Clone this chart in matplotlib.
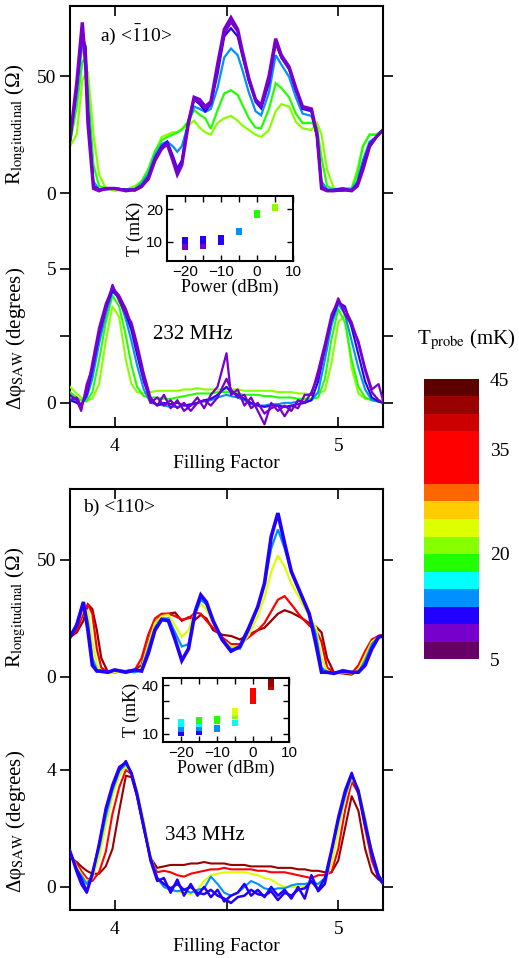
import matplotlib
matplotlib.use("Agg")
import matplotlib.pyplot as plt
import matplotlib.colors as mcolors
import matplotlib.cm as mcm

plt.rcParams.update({
    "font.family": "serif",
    "font.serif": ["Liberation Serif", "DejaVu Serif"],
    "mathtext.fontset": "stix",
    "font.size": 14,
})

# ---- temperature scale (colour bar) ----
T_BOUNDS = [5, 7.5, 10, 12.5, 15, 17.5, 20, 22.5, 25, 27.5, 30, 37.5, 40, 42.5, 45]
T_COLORS = ["#660066", "#7700cc", "#2200ff", "#0090ff", "#00ffff", "#22ff00",
            "#88ff00", "#ddff00", "#ffcc00", "#ff6600", "#ff0000", "#cc0000",
            "#990000", "#5c0000"]
T_TICKS = [5, 20, 35, 45]

# ---- panel a: R_xx vs filling factor ----
FF_RA = [3.80, 3.83, 3.855, 3.87, 3.88, 3.905, 3.93, 3.96, 4.00, 4.05, 4.09, 4.12,
         4.15, 4.18, 4.21, 4.235, 4.26, 4.28, 4.30, 4.33, 4.355, 4.38, 4.405, 4.43,
         4.46, 4.49, 4.52, 4.55, 4.57, 4.60, 4.63, 4.655, 4.69, 4.72, 4.745, 4.78,
         4.81, 4.84, 4.88, 4.905, 4.925, 4.95, 4.98, 5.02, 5.06, 5.085, 5.11, 5.14,
         5.17, 5.20]
RA_YG = [20, 25, 48, 51, 52, 25, 8, 2, 1, 1.5, 3, 5, 10, 17, 24, 25, 26, 26, 27.5, 29,
         31, 28, 26, 25, 30, 32, 33, 31, 29, 27, 25, 24, 27, 35, 38, 37, 30.5, 27.7, 27,
         30, 25, 10, 2, 1.5, 2, 10, 20, 25, 25, 27]
RA_GREEN = [21, 37, 56, 58, 45, 12, 3, 2, 2, 1.5, 2, 5, 10, 18, 22.6, 24, 25, 26, 27,
            31, 35.5, 33.5, 32, 27.5, 35.5, 42.6, 44, 42, 38, 32, 28, 27.7, 36, 47, 45,
            41, 34, 30, 30, 28, 15, 3, 1.5, 2, 2, 8, 20, 25, 25, 27]
RA_LBLUE = [22, 42, 64, 63, 40, 5, 1.5, 2, 2, 1.5, 1.5, 4, 8, 16, 21, 22, 20, 17.7, 20,
            30, 37, 36, 34.7, 36, 45, 58, 61.8, 59, 53, 43, 35, 33.3, 43, 59, 55, 49.7,
            41, 34, 33, 25, 5, 1.5, 1.5, 2, 1.5, 5, 14, 22, 24, 27]
RA_BLUE = [23, 45, 68, 62, 35, 3, 1.5, 2, 2, 1.5, 1.5, 3, 7, 15, 20, 22, 16, 10.5, 14,
           31, 40, 38, 35, 38, 51, 67, 70.5, 67, 59, 48, 39, 36.2, 47, 64.5, 58, 53, 44,
           36, 35, 24, 3, 1, 1.5, 2, 1, 4, 12, 21, 24, 27]
RA_PURPLE2 = [23, 45, 71, 56, 33, 3, 1.5, 1.5, 2, 1.5, 1, 2.5, 6, 14, 19.5, 21, 15, 9,
              13, 31, 40, 39, 36, 38, 53, 68, 73, 69, 60, 48, 40, 37, 48, 64, 58, 53,
              44, 36.5, 35.5, 24, 2.5, 1.5, 1, 1, 1.5, 3.5, 11, 20, 24, 27]
RA_PURPLE1 = [23, 47, 73, 54, 30, 2, 1, 2, 2, 1, 1.5, 3, 6, 14, 19, 21, 14, 8, 12, 30,
              41, 40, 37, 39, 55, 70, 75, 70, 61, 49, 40, 37.5, 50, 66, 59, 54, 45, 37,
              36, 25, 2, 1, 1, 1.5, 1, 3, 10, 20, 24, 27]
RA_TEMPS = [21, 18.5, 13.5, 11, 9.2, 8.5]

# ---- panel a: SAW phase shift ----
FF_PA = [3.80, 3.83, 3.85, 3.875, 3.90, 3.93, 3.96, 3.99, 4.02, 4.05, 4.075, 4.10,
         4.13, 4.16, 4.19, 4.22, 4.25, 4.28, 4.31, 4.34, 4.37, 4.40, 4.43, 4.46, 4.50,
         4.52, 4.55, 4.58, 4.61, 4.64, 4.67, 4.70, 4.73, 4.76, 4.79, 4.82, 4.85, 4.88,
         4.91, 4.94, 4.97, 5.00, 5.03, 5.06, 5.09, 5.12, 5.15, 5.18, 5.20]
PA_YG = [0.6, 0.35, 0.2, 0.1, 0.15, 0.7, 2.3, 3.6, 3.2, 1.6, 0.7, 0.4, 0.35, 0.4, 0.45,
         0.45, 0.45, 0.45, 0.5, 0.5, 0.55, 0.5, 0.5, 0.5, 0.5, 0.5, 0.5, 0.45, 0.45, 0.45,
         0.45, 0.45, 0.4, 0.4, 0.4, 0.35, 0.35, 0.3, 0.35, 0.45, 1.5, 3.0, 3.3, 1.3, 0.35,
         0.15, 0.1, 0.1, 0.1]
PA_GREEN = [0.4, 0.2, 0.1, 0.05, 0.4, 1.6, 3.0, 4.0, 3.6, 2.5, 1.4, 0.6, 0.25, 0.2, 0.2,
            0.15, 0.15, 0.2, 0.25, 0.3, 0.35, 0.35, 0.35, 0.4, 0.4, 0.4, 0.35, 0.3, 0.3,
            0.3, 0.25, 0.25, 0.2, 0.2, 0.2, 0.15, 0.15, 0.15, 0.2, 0.9, 2.4, 3.5, 3.0,
            1.6, 0.6, 0.2, 0.1, 0.05, 0.0]
PA_LBLUE = [0.2, 0.0, -0.05, 0.2, 0.9, 2.2, 3.3, 4.15, 3.9, 3.1, 2.3, 1.4, 0.5, 0.0,
            -0.05, -0.1, -0.15, -0.15, -0.1, -0.1, 0.0, 0.05, 0.1, 0.2, 0.3, 0.25, 0.2,
            0.1, -0.05, -0.1, -0.1, -0.05, -0.05, 0.0, 0.0, 0.05, 0.05, 0.1, 0.4, 1.6,
            2.9, 3.7, 3.3, 2.3, 1.3, 0.5, 0.1, 0.05, 0.0]
PA_BLUE = [0.1, 0.0, -0.1, 0.3, 1.2, 2.5, 3.5, 4.2, 3.9, 3.3, 2.7, 1.8, 0.8, 0.1, -0.1,
           0.0, -0.05, 0.0, -0.1, -0.05, 0.0, 0.1, 0.15, 0.3, 0.6, 0.4, 0.3, 0.15, 0.0,
           -0.1, -0.15, -0.1, -0.1, -0.15, -0.1, -0.05, 0.0, 0.1, 0.8, 2.0, 3.1, 3.75,
           3.6, 2.8, 1.8, 0.8, 0.2, 0.05, 0.0]
PA_PURPLE2 = [0.1, 0.2, -0.1, 0.4, 1.5, 2.8, 3.7, 4.3, 4.0, 3.5, 2.9, 2.0, 0.9, 0.0, 0.2,
              -0.1, 0.1, -0.2, 0.0, -0.3, 0.0, 0.1, -0.1, 0.2, 0.9, 0.5, 0.2, 0.3, -0.2,
              0.0, -0.4, -0.2, -0.1, -0.5, -0.1, -0.2, 0.3, 0.3, 1.2, 2.2, 3.3, 3.8, 3.5,
              3.0, 2.2, 1.2, 0.4, 0.1, 0.0]
PA_PURPLE1 = [0.3, 0.1, -0.3, 0.7, 1.3, 2.6, 3.5, 4.4, 3.8, 3.3, 3.0, 2.2, 1.1, 0.2, -0.1,
              0.3, -0.2, 0.1, -0.3, -0.1, 0.2, -0.2, 0.3, 0.6, 1.85, 0.3, 0.5, -0.1, 0.2,
              -0.3, -0.8, 0.0, -0.3, -0.1, -0.3, 0.1, 0.0, 0.4, 1.0, 2.0, 3.2, 3.9, 3.3,
              2.9, 2.3, 1.3, 0.5, 0.7, 0.1]
PA_TEMPS = [21, 18.5, 13.5, 11, 9.2, 8.5]

# ---- panel a inset: electron temperature vs SAW power ----
INSET_A_POWER = [-20, -20, -20, -20, -15, -15, -15, -15, -10, -10, -10, -5, -5, 0, 0, 5, 5]
INSET_A_T = [8.4, 9.3, 10.2, 10.8, 8.6, 9.5, 10.3, 10.9, 10.0, 10.6, 11.2, 13.0, 13.6,
             18.0, 18.8, 20.2, 20.8]

# ---- panel b: R_xx vs filling factor ----
FF_RB = [3.80, 3.83, 3.86, 3.88, 3.90, 3.92, 3.94, 3.97, 4.00, 4.05, 4.09, 4.12, 4.15,
         4.18, 4.21, 4.24, 4.27, 4.30, 4.33, 4.36, 4.385, 4.41, 4.44, 4.48, 4.52, 4.56,
         4.60, 4.64, 4.67, 4.70, 4.73, 4.76, 4.79, 4.83, 4.87, 4.90, 4.925, 4.95, 4.98,
         5.02, 5.06, 5.09, 5.12, 5.15, 5.18, 5.20]
RB_DRED = [17, 19, 24, 31, 29, 20, 8, 2, 2, 2.5, 3, 5, 15, 23, 26.5, 27, 27.5, 24, 25.5,
           24.5, 26.5, 25, 20, 18, 17.5, 16, 18, 20, 21, 24, 27, 28.5, 27.5, 25.5, 23,
           21.5, 19, 8, 2, 1.5, 1, 3, 9, 15, 17.5, 18]
RB_RED = [17, 20, 27, 31, 27, 12, 4, 2, 2, 2.5, 3, 8, 18, 25, 27, 27, 26, 24.5, 25, 27.5,
          27, 24, 21, 17, 14, 14, 17, 20, 23, 28, 33, 34.5, 31, 26, 22, 20, 15, 4, 2, 2,
          1.5, 5, 11, 16, 17.5, 18]
RB_YELLOW = [17, 22, 29, 28, 15, 5, 2, 1.5, 2, 2, 2, 4, 14, 23, 26, 26.5, 22, 17, 20, 28,
             31, 29, 23, 16, 13, 13, 18, 26, 34, 45, 52, 47, 40, 33, 26, 21, 8, 2.5, 1.5,
             2, 1.5, 3, 9, 15, 17, 17.5]
RB_LBLUE = [17, 23, 32, 23, 8, 3, 2, 2, 3, 2.5, 2, 3, 12, 21, 25, 25, 19, 13, 14, 27, 33,
            31, 24, 16, 12, 12, 20, 30, 40, 55, 63, 55, 45, 36, 27, 18, 4, 2, 1.5, 3, 2,
            2, 7, 14, 17, 17.5]
RB_BLUE = [17, 22, 32, 20, 5, 2.5, 2.5, 2, 3, 2, 3, 2.5, 10, 20, 24.5, 24, 16, 7, 12, 28,
           35, 32, 24, 16, 11, 13, 21, 30, 40, 60, 70, 57, 45, 36, 27, 14, 2, 2, 1.5, 2.5,
           2, 2, 5, 12, 17, 17.5]
RB_TEMPS = [41, 33, 23.5, 13.5, 11]

# ---- panel b: SAW phase shift ----
FF_PB = [3.80, 3.83, 3.85, 3.875, 3.90, 3.93, 3.96, 3.99, 4.02, 4.05, 4.075, 4.10,
         4.13, 4.16, 4.19, 4.22, 4.25, 4.28, 4.31, 4.34, 4.37, 4.40, 4.43, 4.46, 4.49,
         4.52, 4.55, 4.58, 4.61, 4.64, 4.67, 4.70, 4.73, 4.76, 4.79, 4.82, 4.85, 4.88,
         4.91, 4.94, 4.97, 5.00, 5.03, 5.06, 5.09, 5.12, 5.15, 5.18, 5.20]
PB_DRED = [1.0, 0.85, 0.7, 0.55, 0.45, 0.45, 0.7, 1.3, 2.6, 3.8, 3.75, 3.1, 2.0, 1.0,
           0.65, 0.7, 0.75, 0.75, 0.75, 0.8, 0.8, 0.85, 0.8, 0.8, 0.8, 0.75, 0.75, 0.75,
           0.7, 0.7, 0.7, 0.7, 0.65, 0.65, 0.65, 0.6, 0.6, 0.55, 0.55, 0.5, 0.5, 0.9,
           2.0, 3.1, 2.6, 1.3, 0.5, 0.25, 0.2]
PB_RED = [1.1, 0.8, 0.55, 0.3, 0.2, 0.5, 1.2, 2.5, 3.4, 4.0, 3.85, 3.1, 2.0, 0.9, 0.5,
          0.55, 0.5, 0.4, 0.35, 0.45, 0.5, 0.55, 0.6, 0.6, 0.65, 0.6, 0.6, 0.6, 0.6,
          0.55, 0.55, 0.5, 0.5, 0.5, 0.45, 0.4, 0.35, 0.3, 0.4, 0.4, 0.5, 1.3, 2.6, 3.6,
          3.2, 2.0, 0.9, 0.3, 0.15]
PB_YELLOW = [1.15, 0.7, 0.45, 0.2, 0.3, 1.0, 2.1, 3.1, 3.8, 4.1, 3.9, 3.3, 2.3, 1.1, 0.3,
             0.0, -0.1, -0.15, -0.2, -0.25, -0.1, 0.2, 0.4, 0.45, 0.5, 0.5, 0.5, 0.5,
             0.45, 0.4, 0.3, 0.25, 0.1, 0.0, 0.0, 0.0, 0.05, 0.1, 0.1, 0.2, 0.8, 1.9, 3.0,
             3.7, 3.4, 2.4, 1.2, 0.4, 0.2]
PB_LBLUE = [1.2, 0.6, 0.4, 0.1, 0.4, 1.3, 2.4, 3.3, 3.95, 4.2, 3.9, 3.2, 2.1, 1.0, 0.3,
            0.0, -0.1, -0.15, -0.1, -0.2, -0.1, -0.05, 0.35, 0.1, -0.2, -0.3, -0.2, 0.0,
            0.2, 0.1, -0.05, -0.1, -0.05, -0.05, 0.05, 0.1, 0.1, 0.15, 0.1, 0.3, 1.2,
            2.2, 3.1, 3.8, 3.3, 2.3, 1.2, 0.4, 0.15]
PB_BLUE2 = [1.2, 0.5, 0.1, -0.2, 0.4, 1.5, 2.7, 3.5, 4.1, 4.25, 3.9, 3.2, 2.1, 0.9, 0.2,
            0.3, -0.2, 0.25, -0.3, 0.1, -0.3, 0.0, -0.35, -0.1, -0.5, -0.3, -0.2, 0.1,
            -0.3, -0.1, -0.35, 0.0, -0.3, -0.1, -0.4, 0.0, -0.4, 0.4, -0.15, 0.1, 1.2,
            2.3, 3.2, 3.85, 3.3, 2.2, 1.1, 0.3, 0.1]
PB_BLUE1 = [1.25, 0.6, 0.3, -0.15, 0.5, 1.4, 2.6, 3.4, 4.0, 4.3, 3.85, 3.1, 2.0, 1.0,
            0.3, 0.1, -0.05, 0.1, -0.1, 0.0, -0.2, -0.25, -0.1, -0.3, -0.4, -0.55, -0.35,
            -0.3, -0.1, -0.25, -0.3, -0.15, -0.45, -0.2, -0.3, -0.1, -0.05, 0.2, -0.1,
            0.3, 1.3, 2.4, 3.3, 3.9, 3.2, 2.1, 1.2, 0.4, 0.15]
PB_TEMPS = [41, 33, 23.5, 13.5, 11.5, 10.8]

# ---- panel b inset ----
INSET_B_POWER = [-20] * 7 + [-15] * 8 + [-10] * 5 + [-5] * 6 + [0] * 5 + [5] * 4
INSET_B_T = [10.3, 11.3, 12.8, 14.0, 15.6, 16.6, 17.3,
             10.6, 11.6, 13.2, 14.3, 15.8, 16.8, 17.8, 18.6,
             13.0, 14.0, 17.7, 18.7, 19.6,
             16.3, 17.0, 21.0, 22.6, 23.5, 24.5,
             30.2, 31.8, 33.4, 35.0, 36.6,
             38.8, 40.3, 41.3, 42.3]

cmap = mcolors.ListedColormap(T_COLORS)
norm = mcolors.BoundaryNorm(T_BOUNDS, cmap.N)

W, H = 519, 958
fig = plt.figure(figsize=(W / 100, H / 100), dpi=100)


def box(x0, y0, x1, y1):
    """pixel box (top-left origin) -> figure rect"""
    return [x0 / W, 1 - y1 / H, (x1 - x0) / W, (y1 - y0) / H]


def style_inset(ax, ylim, yticks, ylabels):
    ax.set_xlim(-25, 10)
    ax.set_ylim(*ylim)
    ax.set_xticks([-20, -10, 0, 10])
    ax.set_xticks([-15, -5, 5], minor=True)
    ax.set_yticks(yticks)
    ax.set_yticklabels(ylabels)
    ax.tick_params(which="both", direction="in", top=True, right=True,
                   length=4, width=1.0, labelsize=11, pad=3)
    for lab in ax.get_xticklabels() + ax.get_yticklabels():
        lab.set_family("Liberation Sans")
    for sp in ax.spines.values():
        sp.set_linewidth(1.5)
    ax.set_xlabel("Power (dBm)", fontsize=13, labelpad=0)
    ax.set_ylabel("T (mK)", fontsize=13, labelpad=1)


def draw_panel(top, ff_r, r_curves, r_temps, r_lim, ff_p, p_curves, p_temps, p_lim,
               p_ticks, p_minor, title, title_xy, freq, freq_xy, inset_box,
               inset_p, inset_t, inset_ylim, inset_yticks, inset_ylabels,
               r_lw_top, p_lw_top):
    rect = box(70, top, 383, top + 421)
    axR = fig.add_axes(rect)
    axP = fig.add_axes(rect, sharex=axR)
    axP.patch.set_visible(False)
    for sp in axP.spines.values():
        sp.set_visible(False)

    n = len(r_curves)
    for i, (vals, t) in enumerate(zip(r_curves, r_temps)):
        lw = r_lw_top if i == n - 1 else 1.6
        axR.plot(ff_r, vals, color=cmap(norm(t)), lw=lw, solid_joinstyle="miter")
    n = len(p_curves)
    for i, (vals, t) in enumerate(zip(p_curves, p_temps)):
        lw = p_lw_top if i >= n - 2 else 1.5
        axP.plot(ff_p, vals, color=cmap(norm(t)), lw=lw)

    axR.set_xlim(3.8, 5.2)
    axR.set_ylim(*r_lim)
    axP.set_ylim(*p_lim)

    axR.set_xticks([4, 4.5, 5])
    axR.set_xticklabels(["4", "", "5"])
    axR.tick_params(axis="x", direction="in", length=7, width=1.2, top=True,
                    bottom=True, pad=8, labelsize=14)
    axR.set_yticks([0, 50])
    axR.tick_params(axis="y", direction="out", length=7, width=1.2, left=True,
                    right=True, pad=3, labelsize=14)
    axP.set_yticks(p_ticks)
    if p_minor:
        axP.set_yticks(p_minor, minor=True)
    axP.tick_params(axis="y", which="both", direction="out", length=7, width=1.2,
                    left=True, right=True, pad=3, labelsize=14)
    axP.tick_params(axis="x", which="both", bottom=False, top=False,
                    labelbottom=False)
    for sp in axR.spines.values():
        sp.set_linewidth(1.5)

    axR.set_xlabel("Filling Factor", fontsize=14, labelpad=0)
    axR.set_ylabel("R$_{\\rm longitudinal}$ (Ω)", fontsize=15)
    axR.yaxis.set_label_coords(-0.135, 0.72)
    axP.set_ylabel("Δφ$_{\\rm SAW}$ (degrees)", fontsize=15)
    axP.yaxis.set_label_coords(-0.135, 0.21)

    axR.text(title_xy[0], title_xy[1], title, transform=axR.transAxes,
             ha="left", va="center", fontsize=14)
    axR.text(freq_xy[0], freq_xy[1], freq, transform=axR.transAxes,
             ha="center", va="center", fontsize=15)

    axI = fig.add_axes(box(*inset_box))
    axI.scatter(inset_p, inset_t, c=inset_t, cmap=cmap, norm=norm, marker="s",
                s=14, linewidths=0, zorder=3)
    style_inset(axI, inset_ylim, inset_yticks, inset_ylabels)


draw_panel(6, FF_RA, [RA_YG, RA_GREEN, RA_LBLUE, RA_BLUE, RA_PURPLE2, RA_PURPLE1],
           RA_TEMPS, (-100, 80),
           FF_PA, [PA_YG, PA_GREEN, PA_LBLUE, PA_BLUE, PA_PURPLE2, PA_PURPLE1],
           PA_TEMPS, (-0.9, 14.8), [0, 5], [2.5],
           "a) <$\\bar{1}$10>", (0.095, 0.931), "232 MHz", (0.393, 0.219),
           (167, 196, 293, 261), INSET_A_POWER, INSET_A_T, (4.2, 24), [10, 20],
           ["10", "20"], 2.4, 1.6)

draw_panel(489, FF_RB, [RB_DRED, RB_RED, RB_YELLOW, RB_LBLUE, RB_BLUE],
           RB_TEMPS, (-99.6, 80.3),
           FF_PB, [PB_DRED, PB_RED, PB_YELLOW, PB_LBLUE, PB_BLUE2, PB_BLUE1],
           PB_TEMPS, (-0.79, 13.6), [0, 4], None,
           "b) <110>", (0.042, 0.957), "343 MHz", (0.431, 0.178),
           (163, 678, 289, 742), INSET_B_POWER, INSET_B_T, (5, 44.3),
           [10, 20, 30, 40], ["10", "", "", "40"], 2.6, 1.8)

# colour bar
cax = fig.add_axes(box(424, 379, 479, 659))
sm = mcm.ScalarMappable(norm=norm, cmap=cmap)
cb = fig.colorbar(sm, cax=cax, boundaries=T_BOUNDS, spacing="proportional",
                  ticks=T_TICKS)
cb.outline.set_visible(False)
cax.minorticks_off()
cax.tick_params(which="both", length=0, pad=8, labelsize=14)
fig.text(466 / W, 1 - 340 / H, "T$_{\\rm probe}$ (mK)", ha="center", va="center",
         fontsize=15)

fig.savefig("out.png", dpi=100, facecolor="white")
